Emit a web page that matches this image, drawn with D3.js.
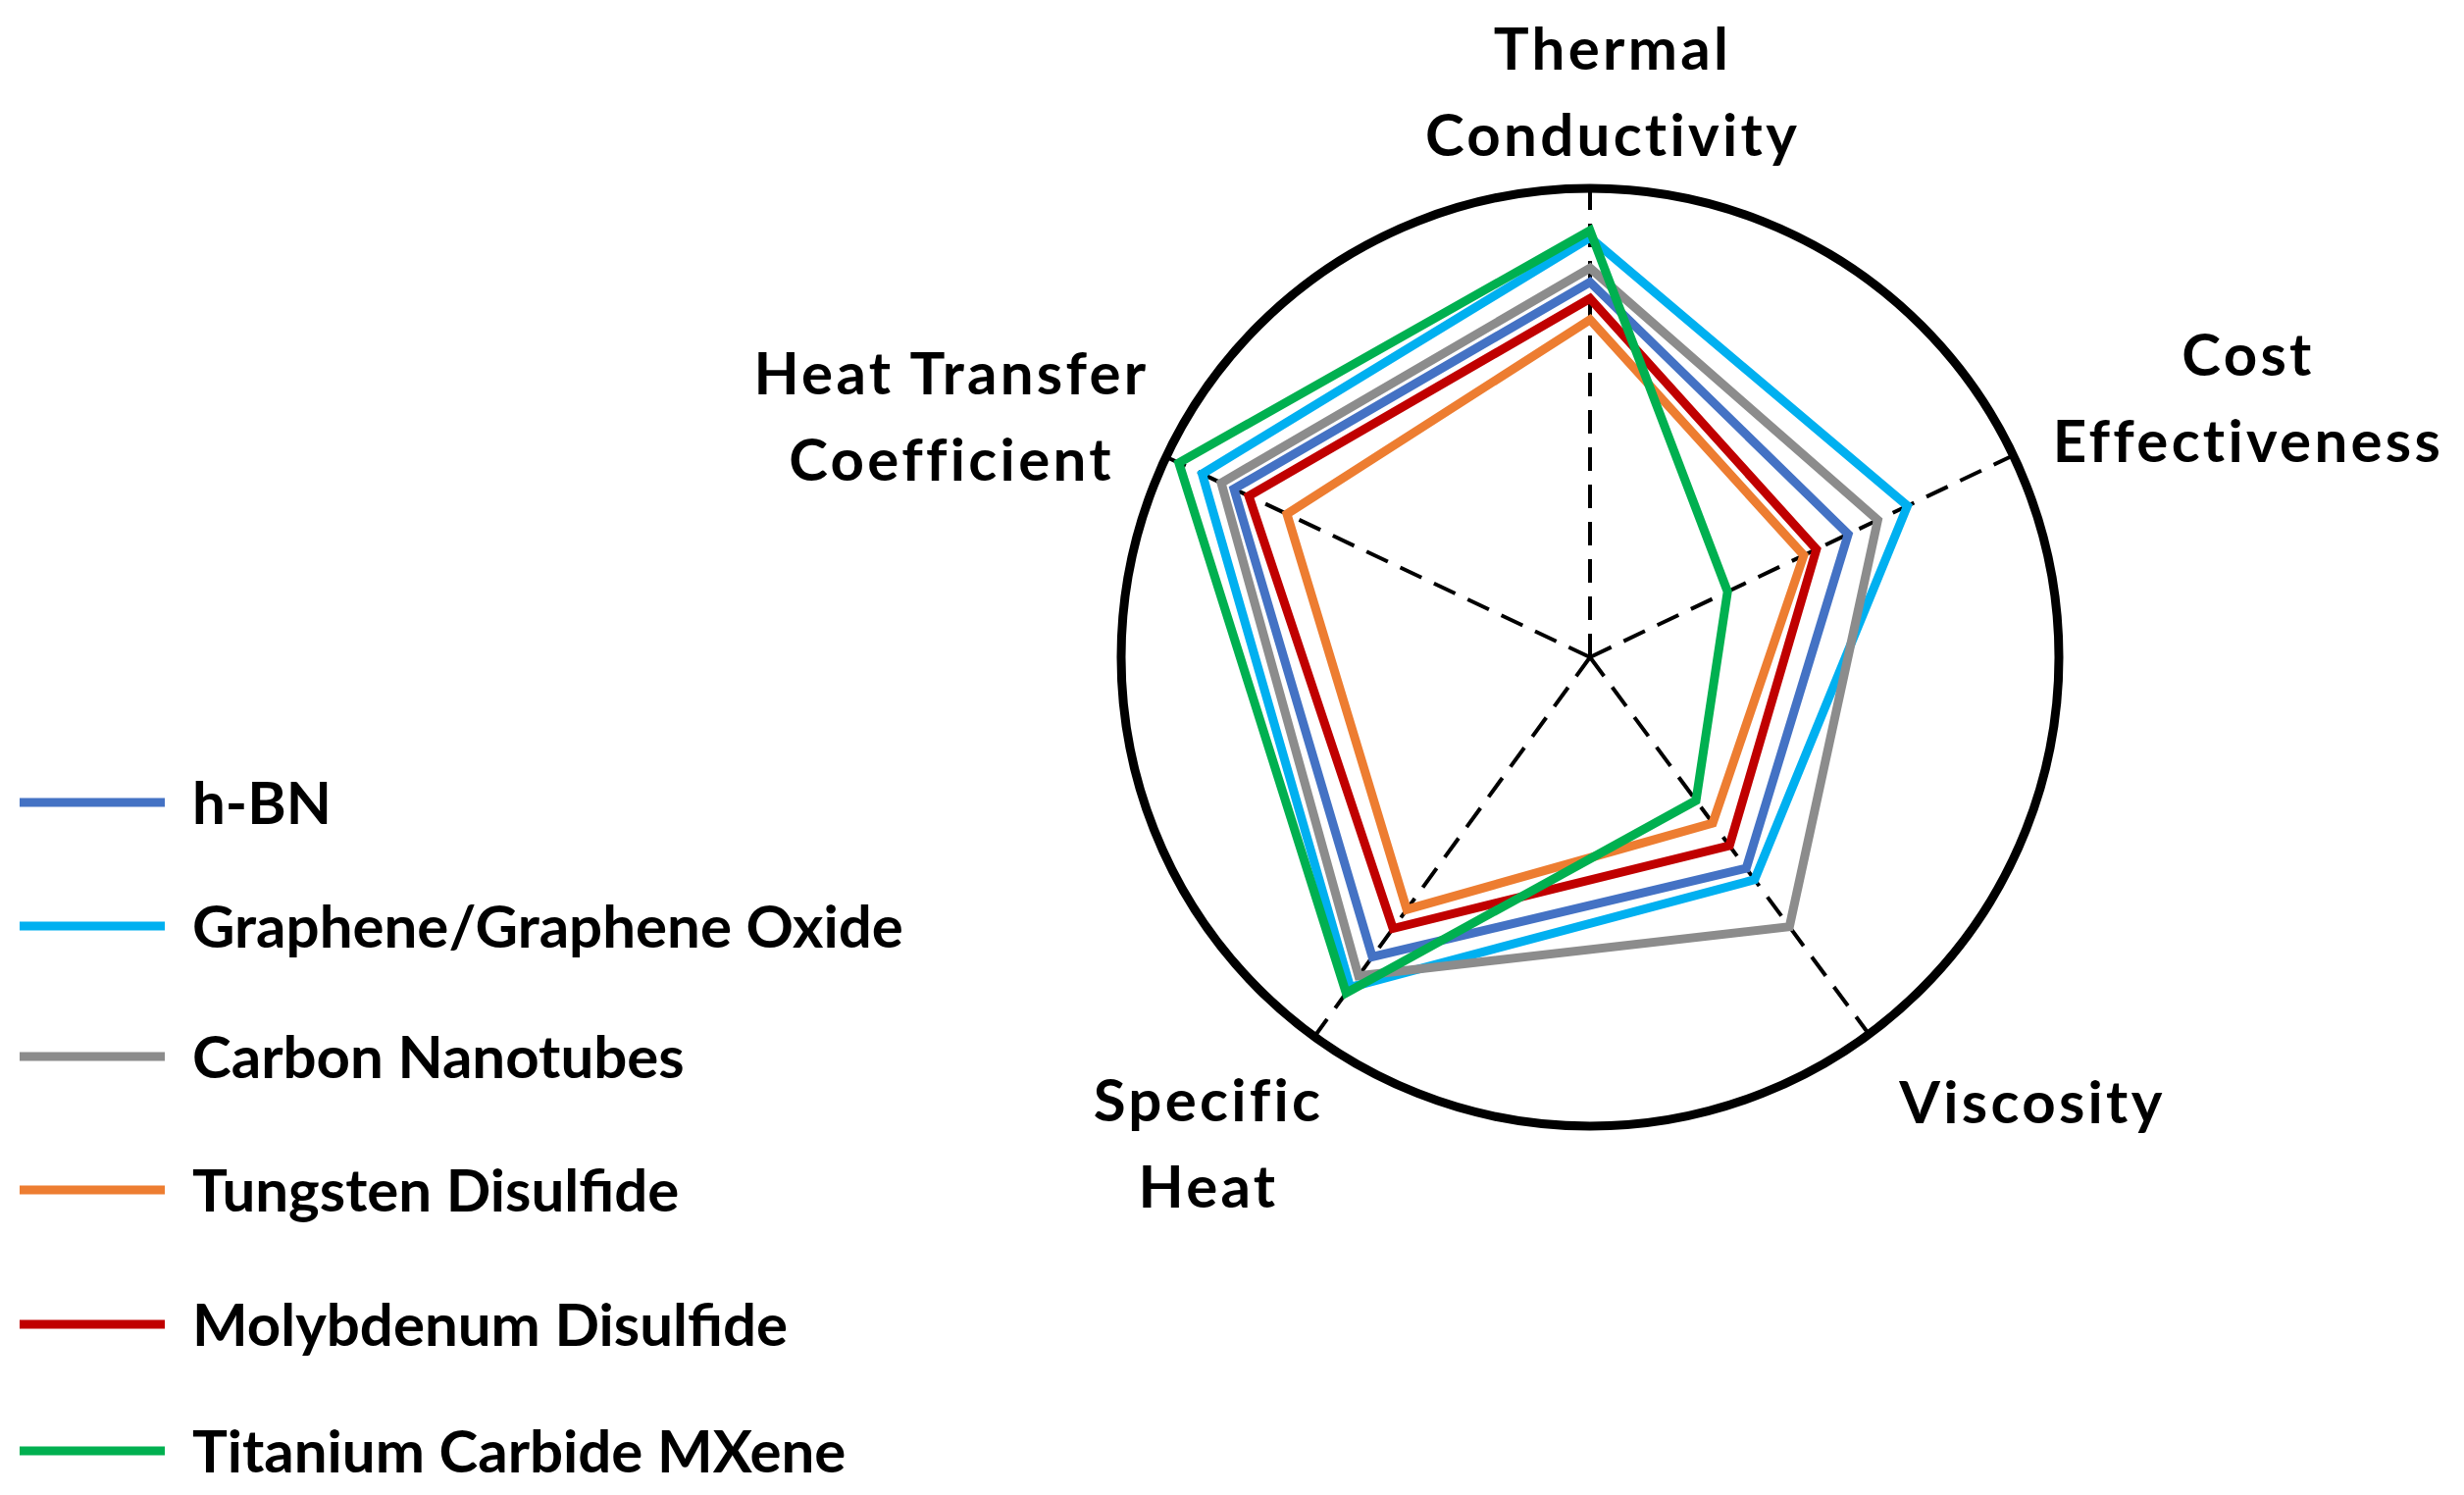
<!DOCTYPE html>
<html lang="en">
<head>
    <meta charset="UTF-8">
    <title>Nanofluid Property Radar</title>
    <script src="https://d3js.org/d3.v7.min.js"></script>
    <style>
        body { margin: 0; background: #fff; }
        svg { display: block; }
        .lbl { font-family: Lato, "Open Sans", sans-serif; font-weight: 700; fill: #000; }
        .axis-lbl { letter-spacing: 3.3px; }
        .axis-line { stroke: #000; stroke-width: 4; stroke-dasharray: 24 14; }
    </style>
</head>
<body>
    <svg id="chart" width="2512" height="1524"></svg>

    <script>
        // Axis names (clockwise from the top)
        const axes = ["Thermal Conductivity", "Cost Effectiveness", "Viscosity", "Specific Heat", "Heat Transfer Coefficient"];

        // Materials and colours
        const materials = ["h-BN", "Graphene/Graphene Oxide", "Carbon Nanotubes", "Tungsten Disulfide", "Molybdenum Disulfide", "Titanium Carbide MXene"];
        const colors = ["#4472C4", "#00B0F0", "#8C8C8C", "#ED7D31", "#C00000", "#00B050"];

        // Scores on a 0-10 scale, same order as axes
        const hBN        = [8.0, 6.1, 5.6, 7.9, 8.4];
        const graphene   = [8.95, 7.5, 5.9, 8.7, 9.15];
        const carbonNT   = [8.3, 6.8, 7.15, 8.4, 8.7];
        const tungsten   = [7.2, 5.05, 4.4, 6.65, 7.15];
        const molybdenum = [7.65, 5.35, 5.0, 7.15, 8.05];
        const mxene      = [9.1, 3.25, 3.8, 8.85, 9.7];
        const seriesValues = [hBN, graphene, carbonNT, tungsten, molybdenum, mxene];

        const svg = d3.select("#chart");

        // Layout
        const cx = 1621, cy = 670, R = 478;
        const axisAngles = [0, 64.5, 143.5, 216, 295.3]; // degrees from the top, clockwise
        const r = d3.scaleLinear().domain([0, 10]).range([0, R]);

        function pt(i, v) {
            const a = axisAngles[i] * Math.PI / 180;
            return [cx + r(v) * Math.sin(a), cy - r(v) * Math.cos(a)];
        }

        // Dashed spokes
        svg.append("g").selectAll("line")
            .data(axes)
            .join("line")
            .attr("class", "axis-line")
            .attr("x1", cx).attr("y1", cy)
            .attr("x2", (d, i) => pt(i, 10)[0])
            .attr("y2", (d, i) => pt(i, 10)[1]);

        // Outer circle
        svg.append("circle")
            .attr("cx", cx).attr("cy", cy).attr("r", r(10))
            .attr("fill", "none")
            .attr("stroke", "#000")
            .attr("stroke-width", 9);

        // Series polygons
        const line = d3.line().curve(d3.curveLinearClosed);
        svg.append("g").selectAll("path")
            .data(seriesValues)
            .join("path")
            .attr("d", vals => line(vals.map((v, i) => pt(i, v))))
            .attr("fill", "none")
            .attr("stroke", (d, i) => colors[i])
            .attr("stroke-width", 9)
            .attr("stroke-linejoin", "miter");

        // Axis labels (two lines each)
        const labelLines = [
            ["Thermal", "Conductivity"],
            ["Cost", "Effectiveness"],
            ["Viscosity"],
            ["Specific", "Heat"],
            ["Heat Transfer", "Coefficient"]
        ];
        const labelPos = [
            { x: 1644, y: 71 },
            { x: 2292, y: 383 },
            { x: 2072, y: 1145 },
            { x: 1232, y: 1143 },
            { x: 970, y: 402 }
        ];
        const fs = 60, lh = 88;
        labelLines.forEach((lines, i) => {
            const t = svg.append("text")
                .attr("class", "lbl axis-lbl")
                .attr("font-size", fs)
                .attr("text-anchor", "middle")
                .attr("x", labelPos[i].x)
                .attr("y", labelPos[i].y);
            lines.forEach((s, k) => {
                t.append("tspan")
                    .attr("x", labelPos[i].x)
                    .attr("dy", k === 0 ? 0 : lh)
                    .text(s);
            });
        });

        // Legend
        const legendY = [818, 944, 1077, 1213, 1350, 1479];
        const legend = svg.append("g").selectAll("g")
            .data(materials)
            .join("g")
            .attr("transform", (d, i) => `translate(0,${legendY[i]})`);

        legend.append("line")
            .attr("x1", 20).attr("x2", 168)
            .attr("stroke", (d, i) => colors[i])
            .attr("stroke-width", 9);

        legend.append("text")
            .attr("class", "lbl")
            .attr("font-size", fs)
            .attr("x", 196)
            .attr("dy", "0.36em")
            .text(d => d);
    </script>
</body>
</html>
